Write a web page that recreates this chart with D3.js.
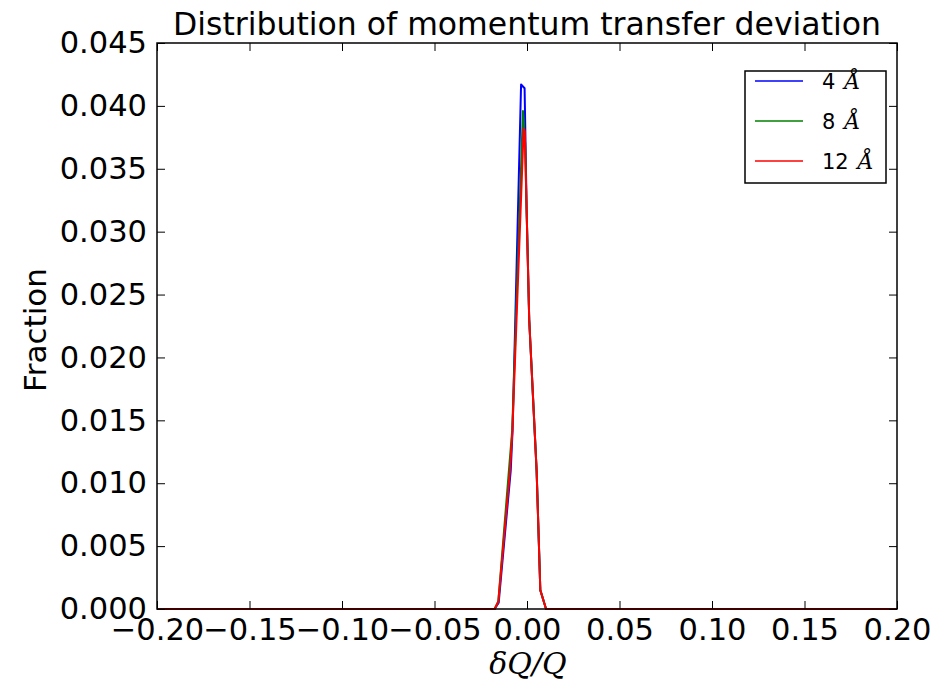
<!DOCTYPE html>
<html>
<head>
<meta charset="utf-8">
<script src="https://cdn.jsdelivr.net/npm/d3@7"></script>
<style>
  html, body { margin: 0; padding: 0; background: #fff; }
  svg { display: block; }
  text { font-family: "DejaVu Sans", sans-serif; fill: #000; }
</style>
</head>
<body>
<svg id="chart" width="942" height="688"></svg>
<script>
// ---- data ----
const titleText = "Distribution of momentum transfer deviation";
const xLabelText = "δQ/Q";
const yLabelText = "Fraction";
const xTicks = [-0.20, -0.15, -0.10, -0.05, 0.00, 0.05, 0.10, 0.15, 0.20];
const yTicks = [0.000, 0.005, 0.010, 0.015, 0.020, 0.025, 0.030, 0.035, 0.040, 0.045];
const seriesNames = ["4", "8", "12"];
const seriesColors = ["#0000ff", "#008000", "#ff0000"];

const x4A = [-0.2, -0.0175, -0.0153, -0.0088, -0.0078, -0.0032, -0.0013, -0.0002, 0.0012, 0.0052, 0.0072, 0.0103, 0.2];
const y4A = [0, 0, 0.0005, 0.0110, 0.0142, 0.0417, 0.0414, 0.0317, 0.0230, 0.0110, 0.0015, 0, 0];
const x8A = [-0.2, -0.0175, -0.0155, -0.0094, -0.0080, -0.0022, -0.0010, -0.0002, 0.0012, 0.0052, 0.0072, 0.0103, 0.2];
const y8A = [0, 0, 0.0006, 0.0117, 0.0142, 0.0396, 0.0370, 0.0317, 0.0230, 0.0110, 0.0015, 0, 0];
const x12A = [-0.2, -0.0175, -0.0155, -0.0092, -0.0079, -0.0018, -0.0012, -0.0002, 0.0012, 0.0052, 0.0072, 0.0103, 0.2];
const y12A = [0, 0, 0.0006, 0.0110, 0.0142, 0.0382, 0.0380, 0.0317, 0.0230, 0.0110, 0.0015, 0, 0];

const seriesX = [x4A, x8A, x12A];
const seriesY = [y4A, y8A, y12A];

// ---- layout ----
const svg = d3.select("#chart");
const L = 157, R = 897, T = 43, B = 609;
const x = d3.scaleLinear().domain([-0.2, 0.2]).range([L, R]);
const y = d3.scaleLinear().domain([0, 0.045]).range([B, T]);
const fmtX = d3.format(".2f"), fmtY = d3.format(".3f");
const tickFont = 30.5;

// lines (clipped to the plot area)
svg.append("clipPath").attr("id", "clip")
  .append("rect").attr("x", L).attr("y", T - 2).attr("width", R - L).attr("height", B - T + 4);

const line = d3.line().x(d => x(d[0])).y(d => y(d[1]));
const gLines = svg.append("g").attr("clip-path", "url(#clip)");
seriesX.forEach((xs, i) => {
  const pts = xs.map((v, j) => [v, seriesY[i][j]]);
  gLines.append("path").datum(pts)
    .attr("d", line).attr("fill", "none")
    .attr("stroke", seriesColors[i]).attr("stroke-width", 2)
    .attr("stroke-linejoin", "round");
});

// axes
const tickLen = 8;
const gB = svg.append("g").attr("transform", `translate(0,${B})`)
  .call(d3.axisBottom(x).tickValues(xTicks).tickFormat(fmtX).tickSize(-tickLen).tickPadding(8));
const gT = svg.append("g").attr("transform", `translate(0,${T})`)
  .call(d3.axisTop(x).tickValues(xTicks).tickFormat("").tickSize(-tickLen));
const gLft = svg.append("g").attr("transform", `translate(${L},0)`)
  .call(d3.axisLeft(y).tickValues(yTicks).tickFormat(fmtY).tickSize(-tickLen).tickPadding(10));
const gRt = svg.append("g").attr("transform", `translate(${R},0)`)
  .call(d3.axisRight(y).tickValues(yTicks).tickFormat("").tickSize(-tickLen));
[gB, gT, gLft, gRt].forEach(g => {
  g.select(".domain").remove();
  g.selectAll(".tick line").attr("stroke", "#000").attr("stroke-width", 1);
  g.selectAll(".tick text")
    .style("font-family", '"DejaVu Sans", sans-serif')
    .style("font-size", tickFont + "px").attr("fill", "#000");
});
gB.selectAll(".tick text").attr("dy", "0.76em");

// frame
svg.append("rect").attr("x", L).attr("y", T).attr("width", R - L).attr("height", B - T)
  .attr("fill", "none").attr("stroke", "#000").attr("stroke-width", 1.5);

// title and axis labels
svg.append("text").attr("x", (L + R) / 2).attr("y", 35)
  .attr("text-anchor", "middle").style("font-size", "31.5px").text(titleText);
svg.append("text").attr("transform", `translate(46,${(T + B) / 2 + 4}) rotate(-90)`)
  .attr("text-anchor", "middle").style("font-size", "31px").text(yLabelText);
svg.append("text").attr("x", (L + R) / 2 + 1).attr("y", 674)
  .attr("text-anchor", "middle")
  .style("font-family", '"DejaVu Serif", serif').style("font-style", "italic")
  .style("font-size", "30px").text(xLabelText);

// legend
const lg = svg.append("g");
lg.append("rect").attr("x", 745).attr("y", 71).attr("width", 141).attr("height", 112)
  .attr("fill", "#fff").attr("stroke", "#000").attr("stroke-width", 1.5);
seriesNames.forEach((name, i) => {
  const yy = 81 + i * 40;
  lg.append("line").attr("x1", 755).attr("x2", 803).attr("y1", yy).attr("y2", yy)
    .attr("stroke", seriesColors[i]).attr("stroke-width", 1.5);
  const t = lg.append("text").attr("x", 822).attr("y", yy + 8).style("font-size", "21px");
  t.append("tspan").text(name);
  t.append("tspan").attr("dx", 9).style("font-family", '"DejaVu Serif", serif')
    .style("font-style", "italic").style("font-size", "22px").text("Å");
});
</script>
</body>
</html>
